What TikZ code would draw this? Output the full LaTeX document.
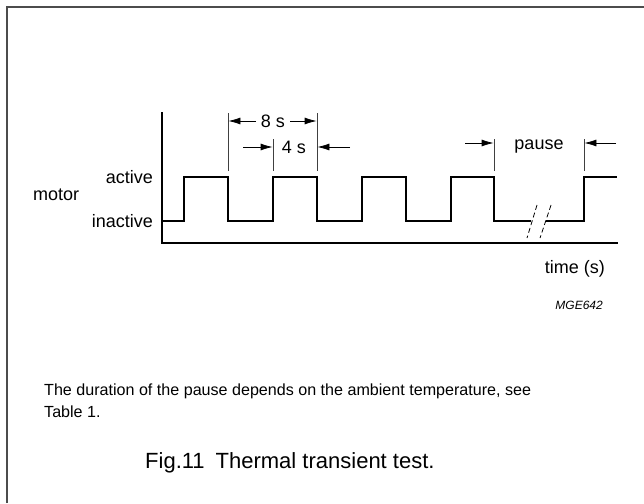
\documentclass[tikz,border=0pt]{standalone}
\usepackage{fontspec}
\setmainfont{Liberation Sans}
\usetikzlibrary{arrows.meta}
\begin{document}
\begin{tikzpicture}[x=1pt,y=-1pt,
  lbl/.style={font=\fontsize{18}{22}\selectfont, inner sep=0pt},
  captxt/.style={font=\fontsize{16.1}{20}\selectfont, inner sep=0pt},
  sig/.style={line width=2pt, line join=miter},
  axis/.style={line width=1.3pt},
  ext/.style={line width=0.8pt, black!75},
  dim/.style={line width=0.8pt, -{Latex[length=12pt,width=7pt]}},
  brk/.style={line width=0.8pt, dash pattern=on 5pt off 3pt},
]
\useasboundingbox (0,0) rectangle (644,503);
% frame
\draw[line width=2pt, black!70] (7,503) -- (7,7) -- (644,7);
% axes
\coordinate (O) at (162,243);
\coordinate (Ytop) at (162,112);
\coordinate (Xend) at (618,243);
\draw[axis] (Ytop) -- (O) -- (Xend);
% signal
\draw[sig] (163,221) -- (184,221) -- (184,177) -- (228,177) -- (228,221)
  -- (273,221) -- (273,177) -- (317,177) -- (317,221)
  -- (362,221) -- (362,177) -- (406,177) -- (406,221)
  -- (451,221) -- (451,177) -- (494,177) -- (494,221) -- (531,221);
\draw[sig] (546,221) -- (584,221) -- (584,177) -- (617,177);
% break marks
\draw[brk] (537,205) -- (527,238);
\draw[brk] (551,205) -- (540,238);
% extension lines
\draw[ext] (228,113) -- (228,171);
\draw[ext] (317,113) -- (317,171);
\draw[ext] (273,139) -- (273,171);
\draw[ext] (494,139) -- (494,171);
\draw[ext] (584,139) -- (584,171);
% 8 s
\node[lbl, anchor=base] (t8) at (273,127) {8 s};
\coordinate (a8l) at (256,121); \coordinate (e8l) at (228.4,121);
\coordinate (a8r) at (290,121); \coordinate (e8r) at (316.6,121);
\draw[dim] (a8l) -- (e8l);
\draw[dim] (a8r) -- (e8r);
% 4 s
\node[lbl, anchor=base] (t4) at (294,153) {4 s};
\coordinate (a4l) at (243,147); \coordinate (e4l) at (272.6,147);
\coordinate (a4r) at (350,147); \coordinate (e4r) at (317.4,147);
\draw[dim] (a4l) -- (e4l);
\draw[dim] (a4r) -- (e4r);
% pause
\node[lbl, anchor=base] (tp) at (539,149) {pause};
\coordinate (apl) at (465,143); \coordinate (epl) at (493.6,143);
\coordinate (apr) at (616,143); \coordinate (epr) at (584.4,143);
\draw[dim] (apl) -- (epl);
\draw[dim] (apr) -- (epr);
% labels
\node[lbl, anchor=base east] (act) at (153,183) {active};
\node[lbl, anchor=base east] (inact) at (153,227) {inactive};
\node[lbl, anchor=base west] (mot) at (33,200) {motor};
\node[lbl, anchor=base east] (time) at (605,273) {time (s)};
\node[inner sep=0pt, anchor=base east, font=\fontsize{12}{14}\selectfont\itshape] (mge) at (603,309) {MGE642};
% caption
\node[captxt, anchor=base west] (c1) at (44,395) {The duration of the pause depends on the ambient temperature, see};
\node[captxt, anchor=base west] (c2) at (44,417) {Table 1.};
\node[inner sep=0pt, anchor=base west, font=\fontsize{22}{26}\selectfont] (fig) at (145,468) {Fig.11\hspace{0.5em}Thermal transient test.};
\end{tikzpicture}
\end{document}
